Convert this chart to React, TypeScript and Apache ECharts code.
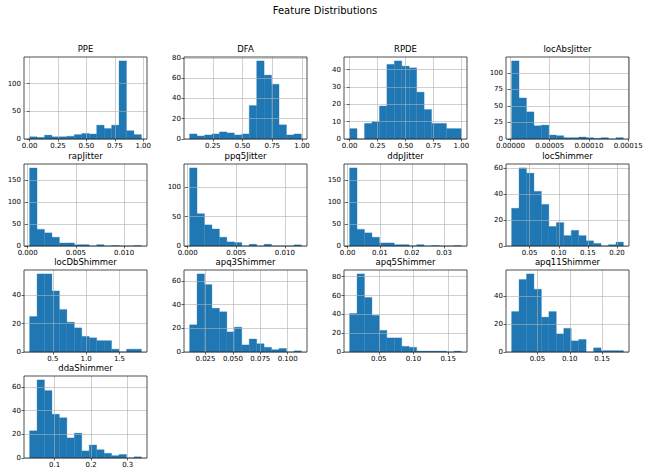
import React, { useEffect, useRef } from "react";
import * as echarts from "echarts";

const features = [
  "PPE", "DFA", "RPDE", "locAbsJitter",
  "rapJitter", "ppq5Jitter", "ddpJitter", "locShimmer",
  "locDbShimmer", "apq3Shimmer", "apq5Shimmer", "apq11Shimmer",
  "ddaShimmer",
];

// data range [min, max] of each feature (15 equal bins)
const binRanges: number[][] = [
  [0.0, 0.984], [0.055, 0.995], [0.0, 1.0], [0.0000015, 0.000144],
  [0.0002, 0.0118], [0.0002, 0.0117], [0.0006, 0.0354], [0.019, 0.211],
  [0.15, 1.83], [0.0105, 0.1125], [0.008, 0.169], [0.01, 0.183],
  [0.0315, 0.3375],
];

const ppeCounts = [4, 3, 7, 4, 4, 5, 8, 10, 9, 25, 19, 25, 141, 15, 8];
const dfaCounts = [5, 3, 4, 5, 7, 6, 4, 5, 33, 77, 63, 54, 14, 4, 5];
const rpdeCounts = [6, 0, 9, 10, 19, 43, 45, 42, 41, 27, 17, 9, 9, 6, 6];
const locAbsJitterCounts = [118, 62, 41, 20, 21, 6, 5, 2, 2, 3, 2, 1, 2, 0, 2];
const rapJitterCounts = [178, 38, 30, 20, 7, 7, 3, 3, 0, 3, 0, 1, 0, 0, 1];
const ppq5JitterCounts = [133, 55, 36, 29, 15, 7, 6, 0, 3, 0, 3, 0, 0, 0, 2];
const ddpJitterCounts = [178, 38, 30, 20, 7, 7, 3, 3, 0, 3, 0, 1, 0, 0, 1];
const locShimmerCounts = [29, 60, 56, 42, 32, 15, 18, 8, 12, 8, 4, 2, 0, 1, 3];
const locDbShimmerCounts = [25, 55, 55, 43, 30, 21, 17, 11, 10, 8, 8, 2, 0, 2, 2];
const apq3ShimmerCounts = [23, 66, 57, 37, 34, 17, 21, 6, 11, 7, 4, 2, 3, 0, 1];
const apq5ShimmerCounts = [41, 83, 58, 39, 23, 15, 15, 6, 5, 1, 1, 1, 1, 0, 1];
const apq11ShimmerCounts = [29, 52, 56, 45, 25, 29, 13, 17, 8, 9, 0, 3, 1, 1, 1];
const ddaShimmerCounts = [23, 66, 57, 37, 34, 17, 21, 6, 11, 7, 4, 2, 3, 0, 1];

const allCounts = [
  ppeCounts, dfaCounts, rpdeCounts, locAbsJitterCounts,
  rapJitterCounts, ppq5JitterCounts, ddpJitterCounts, locShimmerCounts,
  locDbShimmerCounts, apq3ShimmerCounts, apq5ShimmerCounts, apq11ShimmerCounts,
  ddaShimmerCounts,
];

const xTicks: number[][] = [
  [0, 0.25, 0.5, 0.75, 1.0], [0.25, 0.5, 0.75, 1.0], [0, 0.25, 0.5, 0.75, 1.0], [0, 0.00005, 0.0001, 0.00015],
  [0, 0.005, 0.01], [0, 0.005, 0.01], [0, 0.01, 0.02, 0.03], [0.05, 0.1, 0.15, 0.2],
  [0.5, 1.0, 1.5], [0.025, 0.05, 0.075, 0.1], [0.05, 0.1, 0.15], [0.05, 0.1, 0.15],
  [0.1, 0.2, 0.3],
];
const xDecimals = [2, 2, 2, 5, 3, 3, 2, 2, 1, 3, 2, 2, 1];

const yTicks: number[][] = [
  [0, 50, 100], [0, 20, 40, 60, 80], [0, 10, 20, 30, 40], [0, 25, 50, 75, 100],
  [0, 50, 100, 150], [0, 50, 100], [0, 50, 100, 150], [0, 20, 40, 60],
  [0, 20, 40], [0, 20, 40, 60], [0, 20, 40, 60, 80], [0, 20, 40],
  [0, 20, 40, 60],
];

const FONT = "DejaVu Sans";
const colLeft = [24, 184, 344, 506];
const rowTop = [57, 164, 270, 376];
const GW = 123;
const GH = 82;

export default function App() {
  const ref = useRef<HTMLDivElement>(null);
  useEffect(() => {
    if (!ref.current) return;
    const chart = echarts.init(ref.current, null, { renderer: "svg" });
    const grids: any[] = [];
    const xAxes: any[] = [];
    const yAxes: any[] = [];
    const series: any[] = [];
    const graphics: any[] = [
      {
        type: "text", x: 325, y: 10,
        style: { text: "Feature Distributions", font: `10px "${FONT}"`, fill: "#000", textAlign: "center", textVerticalAlign: "middle" },
      },
    ];
    features.forEach((name, i) => {
      const r = Math.floor(i / 4);
      const c = i % 4;
      const [lo, hi] = binRanges[i];
      const counts = allCounts[i];
      const bw = (hi - lo) / counts.length;
      const span = hi - lo;
      const maxC = Math.max(...counts);
      grids.push({
        left: colLeft[c], top: rowTop[r], width: GW, height: GH,
        show: true, borderColor: "#222", borderWidth: 0.8, backgroundColor: "transparent", z: 4,
      });
      const dec = xDecimals[i];
      xAxes.push({
        gridIndex: i, type: "value", min: lo - 0.05 * span, max: hi + 0.05 * span, z: 3,
        axisLine: { show: false },
        axisTick: { show: true, length: 2.5, lineStyle: { color: "#222", width: 0.7 }, customValues: xTicks[i] },
        axisLabel: { customValues: xTicks[i], formatter: (v: number) => v.toFixed(dec), fontSize: 7, color: "#000", fontFamily: FONT, margin: 3, hideOverlap: false },
        splitLine: { show: true, lineStyle: { color: "#b0b0b0", width: 0.6 } },
      });
      yAxes.push({
        gridIndex: i, type: "value", min: 0, max: maxC * 1.05, z: 3,
        axisLine: { show: false },
        axisTick: { show: true, length: 2.5, lineStyle: { color: "#222", width: 0.7 }, customValues: yTicks[i] },
        axisLabel: { customValues: yTicks[i], formatter: (v: number) => String(v), fontSize: 7, color: "#000", fontFamily: FONT, margin: 3 },
        splitLine: { show: true, lineStyle: { color: "#b0b0b0", width: 0.6 } },
      });
      series.push({
        type: "custom", xAxisIndex: i, yAxisIndex: i, z: 2,
        encode: { x: [0, 1], y: 2 },
        data: counts.map((n, k) => [lo + k * bw, lo + (k + 1) * bw, n]),
        renderItem: (params: any, api: any) => {
          const p0 = api.coord([api.value(0), api.value(2)]);
          const p1 = api.coord([api.value(1), 0]);
          return {
            type: "rect",
            shape: { x: p0[0], y: p0[1], width: p1[0] - p0[0], height: p1[1] - p0[1] },
            style: { fill: "#1f77b4", stroke: "#1f77b4", lineWidth: 0.3 },
          };
        },
      });
      graphics.push({
        type: "text", x: colLeft[c] + GW / 2, y: rowTop[r] - 8,
        style: { text: name, font: `8.5px "${FONT}"`, fill: "#000", textAlign: "center", textVerticalAlign: "middle" },
        z: 10,
      });
    });
    chart.setOption({
      animation: false,
      backgroundColor: "#fff",
      grid: grids,
      xAxis: xAxes,
      yAxis: yAxes,
      series,
      graphic: graphics,
    });
    return () => chart.dispose();
  }, []);
  return (
    <div
      ref={ref}
      style={{ position: "fixed", left: 0, top: 0, width: 650, height: 476 }}
    />
  );
}
